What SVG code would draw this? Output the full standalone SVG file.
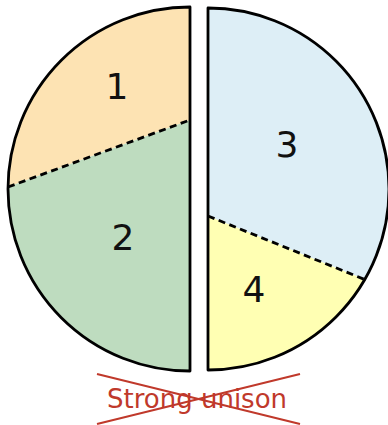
<svg xmlns="http://www.w3.org/2000/svg" width="388" height="425" viewBox="0 0 388 425">
<style>
.outline{fill:none;stroke:#000;stroke-width:2.8;stroke-linejoin:round}
.dash{fill:none;stroke:#000;stroke-width:2.8;stroke-dasharray:7,4.5}
.num{font-family:"DejaVu Sans","Liberation Sans",sans-serif;font-size:36px;fill:#111;text-anchor:middle}
.label{font-family:"DejaVu Sans","Liberation Sans",sans-serif;font-size:26px;fill:#C0392B;text-anchor:middle}
.cross{stroke:#C0392B;stroke-width:2}
</style>
<g id="left-half">
  <g id="sector-1">
    <path d="M190,7 A182,182 0 0 0 8,187 L190,120 Z" fill="#FDE3B3"/>
    <text class="num" x="117" y="99">1</text>
  </g>
  <g id="sector-2">
    <path d="M8,187 A182,182 0 0 0 190,371 L190,120 Z" fill="#BEDCBF"/>
    <text class="num" x="123" y="250">2</text>
  </g>
  <path class="outline" d="M190,7 A182,182 0 0 0 190,371 Z"/>
</g>
<g id="right-half">
  <g id="sector-3">
    <path d="M208,8 A181,181 0 0 1 364.75,279.5 L208,216 Z" fill="#DDEEF6"/>
    <text class="num" x="287" y="157">3</text>
  </g>
  <g id="sector-4">
    <path d="M364.75,279.5 A181,181 0 0 1 208,370 L208,216 Z" fill="#FFFFB3"/>
    <text class="num" x="254" y="302">4</text>
  </g>
  <path class="outline" d="M208,8 A181,181 0 0 1 208,370 Z"/>
</g>
<g id="connectors">
  <line class="dash" x1="8" y1="187" x2="190" y2="120"/>
  <line class="dash" x1="208" y1="216" x2="364.75" y2="279.5"/>
</g>
<g id="caption">
  <text class="label" x="197" y="408">Strong unison</text>
  <line class="cross" x1="97" y1="374" x2="300" y2="424"/>
  <line class="cross" x1="97" y1="424" x2="300" y2="374"/>
</g>
</svg>
